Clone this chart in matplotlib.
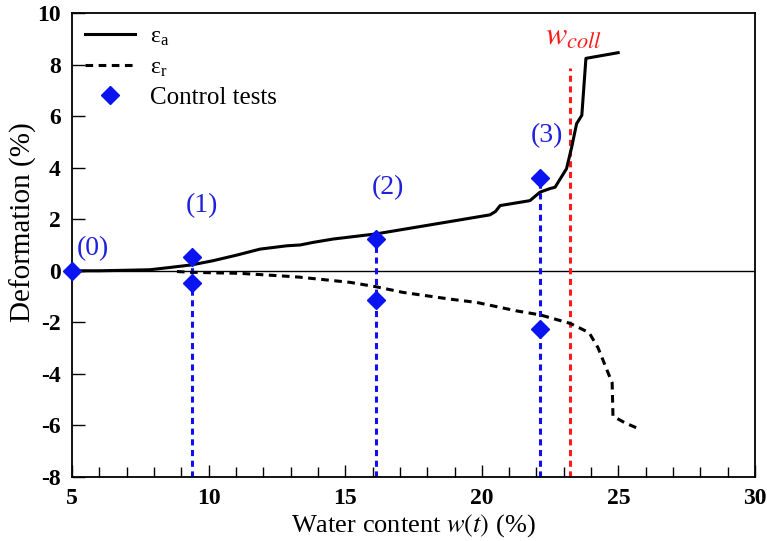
import matplotlib
matplotlib.use("Agg")
import matplotlib.pyplot as plt
from matplotlib.ticker import MultipleLocator

plt.rcParams['font.family'] = ['Liberation Serif', 'DejaVu Serif']
plt.rcParams['mathtext.fontset'] = 'stix'
plt.rcParams['axes.unicode_minus'] = False

# Axial deformation curve (water content %, deformation %)
ea_w = [5.0, 6.0, 7.0, 7.85, 8.6, 9.39, 10.16, 11.04, 11.88, 12.87, 13.35, 13.82, 14.55, 16.13,
        17.37, 18.84, 20.3, 20.5, 20.67, 21.76, 22.13, 22.5, 22.68, 23.1, 23.29, 23.47, 23.66,
        23.81, 24.99]
ea_d = [0.0, 0.0, 0.02, 0.04, 0.13, 0.23, 0.39, 0.61, 0.84, 0.97, 1.0, 1.1, 1.23, 1.43,
        1.65, 1.91, 2.17, 2.3, 2.53, 2.72, 3.05, 3.19, 3.24, 3.96, 4.8, 5.71, 6.03,
        8.24, 8.46]

# Radial deformation curve
er_w = [8.84, 9.39, 11.15, 12.98, 13.35, 15.18, 16.13, 17.12, 18.84, 19.82, 21.29, 22.13,
        23.23, 23.85, 23.96, 24.25, 24.77, 24.8, 25.24, 25.68]
er_d = [-0.03, -0.06, -0.1, -0.22, -0.25, -0.45, -0.62, -0.84, -1.1, -1.23, -1.56, -1.71,
        -2.04, -2.36, -2.46, -2.98, -4.35, -5.64, -5.9, -6.1]

# Control tests
ct_w = [5.0, 9.39, 9.39, 16.13, 16.13, 22.13, 22.13]
ct_d = [0.0, 0.52, -0.49, 1.22, -1.13, 3.59, -2.26]

# Vertical markers
ctl_w = [9.39, 16.13, 22.13]
ctl_top = [0.52, 1.22, 3.59]
ctl_labels = ['(1)', '(2)', '(3)']
ctl_label_pos = [(9.76, 2.53), (16.57, 3.24), (22.4, 5.25)]
w_coll = 23.23
w_coll_top = 7.87

fig = plt.figure(figsize=(7.67, 5.41), dpi=100)
ax = fig.add_axes([0.0939, 0.1183, 0.8905, 0.8577])

ax.axhline(0, color='black', lw=1.0, zorder=1)

for w, top in zip(ctl_w, ctl_top):
    ax.plot([w, w], [-8, top], color='#1010ee', lw=2.2, ls=(0, (2, 1.5)), zorder=2)
ax.plot([w_coll, w_coll], [-8, w_coll_top], color='#ff1a1a', lw=2.2, ls=(0, (2, 1.5)), zorder=2)

ax.plot(ea_w, ea_d, color='black', lw=2.2, label=r'$\mathregular{\varepsilon_a}$', zorder=3)
ax.plot(er_w, er_d, color='black', lw=2.2, ls=(0, (2.5, 1.8)), label=r'$\mathregular{\varepsilon_r}$', zorder=3)
ax.plot(ct_w, ct_d, ls='none', marker='D', color='#0a14f0', markersize=9, label='Control tests',
        zorder=4, clip_on=False)

ax.text(5.75, 0.85, '(0)', color='#2020dd', fontsize=20, ha='center', va='center')
for lab, (x, y) in zip(ctl_labels, ctl_label_pos):
    ax.text(x, y, lab, color='#2020dd', fontsize=20, ha='center', va='center')
ax.text(23.34, 9.07, r'$w_{coll}$', color='#ff1a1a', fontsize=23, ha='center', va='center')

ax.set_xlim(5, 30)
ax.set_ylim(-8, 10)
ax.xaxis.set_major_locator(MultipleLocator(5))
ax.xaxis.set_minor_locator(MultipleLocator(1))
ax.yaxis.set_major_locator(MultipleLocator(2))
ax.tick_params(axis='both', which='major', direction='in', length=9, width=1, labelsize=17, pad=8)
ax.tick_params(axis='x', which='minor', direction='in', length=7, width=1)
ax.tick_params(top=False, right=False)
for t in ax.get_xticklabels() + ax.get_yticklabels():
    t.set_fontweight('bold')
for s in ax.spines.values():
    s.set_linewidth(1.3)

ax.set_xlabel(r'Water content $\mathit{w(t)}$ (%)', fontsize=19, labelpad=2)
ax.set_ylabel('Deformation (%)', fontsize=21)
ax.yaxis.set_label_coords(-0.052, 0.55)

leg = ax.legend(loc='upper left', frameon=False, fontsize=18, handlelength=2.0,
                labelspacing=0.3, handletextpad=0.6, borderaxespad=0.1, bbox_to_anchor=(0.0, 1.0))
leg.get_texts()[0].set_fontsize(17)
leg.get_texts()[1].set_fontsize(17)

fig.savefig('out.png', dpi=100)
